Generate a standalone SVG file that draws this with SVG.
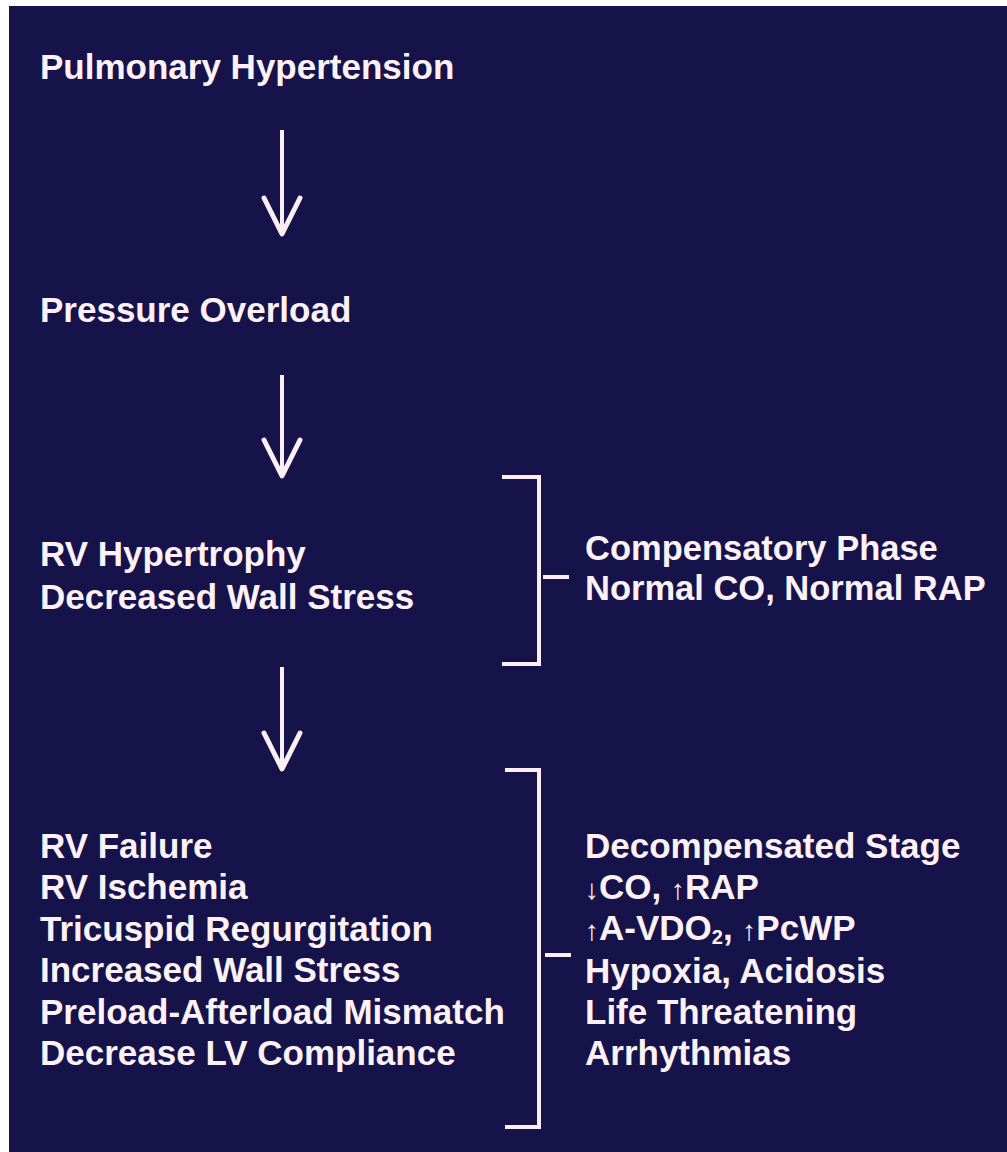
<svg xmlns="http://www.w3.org/2000/svg" width="1007" height="1152" viewBox="0 0 1007 1152">
  <defs>
    <style>
      .t { font-family: "Liberation Sans", Arial, Helvetica, sans-serif; font-weight: bold; font-size: 35px; fill: #fdf1f5; }
      .tr { font-size: 34.5px; }
      .ln { fill: none; stroke: #fbeff3; stroke-width: 4; stroke-linecap: square; stroke-linejoin: miter; }
      .shaft { fill: none; stroke: #fbeff3; stroke-width: 4; }
      .ar { font-size: 28px; }
    </style>
    <marker id="vhead" markerUnits="userSpaceOnUse" viewBox="-40 -24 46 48" markerWidth="46" markerHeight="48" refX="0" refY="0" orient="auto" overflow="visible">
      <path d="M-36,-18 L0,0 L-36,18" fill="none" stroke="#fbeff3" stroke-width="5" stroke-linecap="round" stroke-linejoin="round"/>
    </marker>
  </defs>

  <rect x="0" y="0" width="1007" height="1152" fill="#ffffff"/>
  <rect x="9" y="6" width="998" height="1146" fill="#15134a"/>

  <g id="connectors">
    <path class="shaft" d="M282,130 L282,234" marker-end="url(#vhead)"/>
    <path class="shaft" d="M282,375 L282,476" marker-end="url(#vhead)"/>
    <path class="shaft" d="M282,667 L282,769" marker-end="url(#vhead)"/>
    <path class="ln" d="M504,477 L539,477 L539,664 L504,664"/>
    <path class="ln" d="M545,577 L567,577"/>
    <path class="ln" d="M507,770 L539,770 L539,1127 L507,1127"/>
    <path class="ln" d="M547,955 L569,955"/>
  </g>

  <g id="node-pulmonary-hypertension">
    <text class="t" x="40" y="79">Pulmonary Hypertension</text>
  </g>

  <g id="node-pressure-overload">
    <text class="t" x="40" y="322">Pressure Overload</text>
  </g>

  <g id="node-rv-hypertrophy">
    <text class="t" x="40" y="566">RV Hypertrophy</text>
    <text class="t" x="40" y="609">Decreased Wall Stress</text>
  </g>

  <g id="node-compensatory-phase">
    <text class="t tr" x="585" y="560">Compensatory Phase</text>
    <text class="t tr" x="585" y="600">Normal CO, Normal RAP</text>
  </g>

  <g id="node-rv-failure">
    <text class="t" x="40" y="858">RV Failure</text>
    <text class="t" x="40" y="899">RV Ischemia</text>
    <text class="t" x="40" y="941">Tricuspid Regurgitation</text>
    <text class="t" x="40" y="982">Increased Wall Stress</text>
    <text class="t" x="40" y="1024">Preload-Afterload Mismatch</text>
    <text class="t" x="40" y="1065">Decrease LV Compliance</text>
  </g>

  <g id="node-decompensated-stage">
    <text class="t" x="585" y="858">Decompensated Stage</text>
    <text class="t" x="585" y="899"><tspan class="ar">↓</tspan>CO, <tspan class="ar">↑</tspan>RAP</text>
    <text class="t" x="585" y="940"><tspan class="ar">↑</tspan>A-VDO<tspan font-size="20" dy="4">2</tspan><tspan dy="-4">,  </tspan><tspan class="ar">↑</tspan>PcWP</text>
    <text class="t" x="585" y="983">Hypoxia, Acidosis</text>
    <text class="t" x="585" y="1024">Life Threatening</text>
    <text class="t" x="585" y="1065">Arrhythmias</text>
  </g>
</svg>
